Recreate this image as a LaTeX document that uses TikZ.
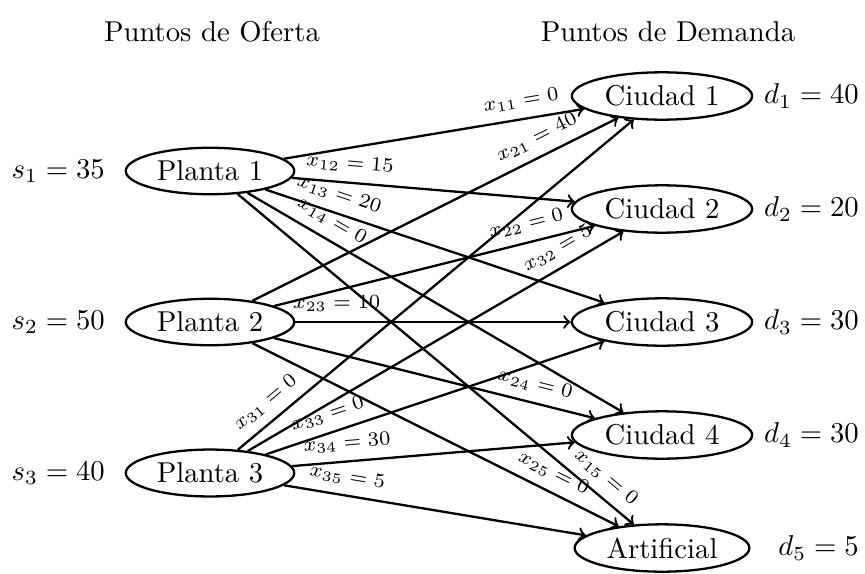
\documentclass[tikz,border=0pt]{standalone}
\usepackage{amsmath}
\usetikzlibrary{shapes.geometric}

\begin{document}
\begin{tikzpicture}[x=0.3484pt,y=0.3484pt,
  oferta/.style={draw,thick,ellipse,inner sep=2.2pt},
  demanda/.style={draw,thick,ellipse,inner sep=2.2pt},
  flujo/.style={->,thick},
  etq/.style={sloped,above,font=\scriptsize}]
\useasboundingbox (0,0) rectangle (865,-573);

% Encabezados
\node (tof) at (212,-32) {Puntos de Oferta};
\node (tdem) at (668,-32) {Puntos de Demanda};

% Plantas (oferta)
\node[oferta] (p1) at (210,-171) {Planta 1};
\node[oferta] (p2) at (210,-322) {Planta 2};
\node[oferta] (p3) at (210,-473) {Planta 3};

% Ciudades (demanda)
\node[demanda] (c1) at (662,-96) {Ciudad 1};
\node[demanda] (c2) at (662,-209) {Ciudad 2};
\node[demanda] (c3) at (662,-322) {Ciudad 3};
\node[demanda] (c4) at (662,-435) {Ciudad 4};
\node[demanda] (c5) at (662,-548) {Artificial};

% Ofertas
\node[anchor=east] (s1) at (115,-171) {$s_1 = 35$};
\node[anchor=east] (s2) at (115,-322) {$s_2 = 50$};
\node[anchor=east] (s3) at (115,-473) {$s_3 = 40$};

% Demandas
\node[anchor=east] (d1) at (869,-96) {$d_1 = 40$};
\node[anchor=east] (d2) at (869,-209) {$d_2 = 20$};
\node[anchor=east] (d3) at (869,-322) {$d_3 = 30$};
\node[anchor=east] (d4) at (869,-435) {$d_4 = 30$};
\node[anchor=east] (d5) at (869,-548) {$d_5 = 5$};

% Arcos desde Planta 1
\draw[flujo] (p1) -- node[etq,pos=0.8] {$x_{11} = 0$} (c1);
\draw[flujo] (p1) -- node[etq,pos=0.2] {$x_{12} = 15$} (c2);
\draw[flujo] (p1) -- node[etq,pos=0.2] {$x_{13} = 20$} (c3);
\draw[flujo] (p1) -- node[etq,pos=0.2] {$x_{14} = 0$} (c4);
\draw[flujo] (p1) -- node[etq,pos=0.9] {$x_{15} = 0$} (c5);

% Arcos desde Planta 2
\draw[flujo] (p2) -- node[etq,pos=0.8] {$x_{21} = 40$} (c1);
\draw[flujo] (p2) -- node[etq,pos=0.8] {$x_{22} = 0$} (c2);
\draw[flujo] (p2) -- node[etq,pos=0.15] {$x_{23} = 10$} (c3);
\draw[flujo] (p2) -- node[etq,pos=0.8] {$x_{24} = 0$} (c4);
\draw[flujo] (p2) -- node[etq,pos=0.8] {$x_{25} = 0$} (c5);

% Arcos desde Planta 3
\draw[flujo] (p3) -- node[etq,pos=0.1] {$x_{31} = 0$} (c1);
\draw[flujo] (p3) -- node[etq,pos=0.85] {$x_{32} = 5$} (c2);
\draw[flujo] (p3) -- node[etq,pos=0.2] {$x_{33} = 0$} (c3);
\draw[flujo] (p3) -- node[etq,pos=0.2] {$x_{34} = 30$} (c4);
\draw[flujo] (p3) -- node[etq,pos=0.2] {$x_{35} = 5$} (c5);

\end{tikzpicture}
\end{document}
